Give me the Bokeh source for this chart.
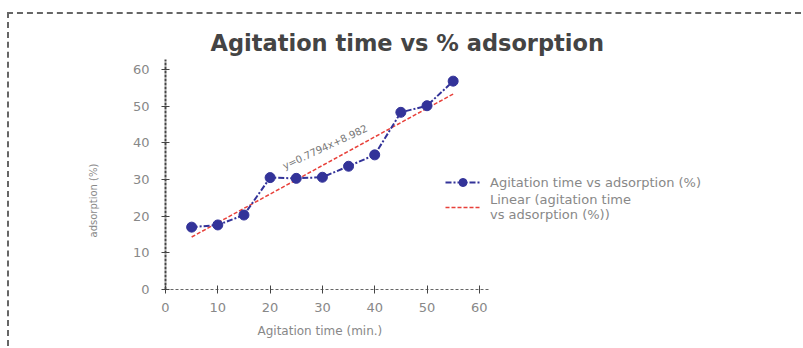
from bokeh.plotting import figure
from bokeh.models import Legend, LegendItem, Label, FixedTicker, Range1d, Title
from bokeh.embed import file_html
from bokeh.resources import INLINE
import math

# data
time_min = [5, 10, 15, 20, 25, 30, 35, 40, 45, 50, 55]
adsorption = [17.0, 17.6, 20.3, 30.5, 30.3, 30.6, 33.6, 36.7, 48.3, 50.1, 56.8]
slope = 0.7794
intercept = 10.42
trend_x = [5, 55]
trend_y = [slope * x + intercept for x in trend_x]
x_ticks = [0, 10, 20, 30, 40, 50, 60]
y_ticks = [0, 10, 20, 30, 40, 50, 60]

FONT = "DejaVu Sans"

p = figure(width=794, height=334, output_backend="svg", toolbar_location=None,
           x_range=Range1d(0, 119.5), y_range=Range1d(0, 62.7),
           min_border_left=156, min_border_right=13, min_border_top=45, min_border_bottom=59)
p.styles = {"margin-left": "7px", "margin-top": "12px",
            "border-left": "2px dashed #666", "border-top": "2px dashed #666"}
p.outline_line_color = None
p.xgrid.visible = False
p.ygrid.visible = False
p.background_fill_color = "white"
p.border_fill_color = "white"

p.title.text = "Agitation time vs % adsorption"
p.title.align = "left"
p.title.offset = 45
p.title.text_font = FONT
p.title.text_font_size = "22.5px"
p.title.text_font_style = "bold"
p.title.text_color = "#444444"
p.title.standoff = 8

for ax in (p.xaxis[0], p.yaxis[0]):
    ax.major_label_text_font = FONT
    ax.major_label_text_font_size = "13px"
    ax.major_label_text_color = "#888888"
    ax.major_tick_in = 4
    ax.major_tick_out = 4
    ax.minor_tick_line_color = None
    ax.major_tick_line_color = "#444444"

p.xaxis.ticker = FixedTicker(ticks=x_ticks)
p.yaxis.ticker = FixedTicker(ticks=y_ticks)
p.xaxis.bounds = (0, 62)
p.xaxis.axis_line_color = "#666666"
p.xaxis.axis_line_dash = "3 2"
p.xaxis.major_label_standoff = 9
p.yaxis.axis_line_color = "#444444"
p.yaxis.axis_line_width = 2
p.yaxis.axis_line_dash = "3 1"
p.yaxis.major_label_standoff = 12

xlab = Title(text="Agitation time (min.)", align="left", offset=92, standoff=14,
             text_font=FONT, text_font_size="12px", text_font_style="normal",
             text_color="#888888")
p.add_layout(xlab, "below")

ylab = Title(text="adsorption (%)", align="left", offset=52, standoff=62,
             text_font=FONT, text_font_size="10px", text_font_style="normal",
             text_color="#888888")
p.add_layout(ylab, "left")

trend = p.line(trend_x, trend_y, line_color="#e8403a", line_width=1.5, line_dash="4 2")
ln = p.line(time_min, adsorption, line_color="#333399", line_width=2, line_dash="6 2 2 2")
sc = p.scatter(time_min, adsorption, size=10, fill_color="#333399", line_color="#333399")

p.add_layout(Label(x=22.5, y=33.5, text="y=0.7794x+8.982", angle=math.radians(25),
                   text_align="left", text_baseline="middle",
                   text_font=FONT, text_font_size="10px", text_color="#777777"))

legend = Legend(items=[
    LegendItem(label="Agitation time vs adsorption (%)", renderers=[ln, sc]),
    LegendItem(label="Linear (agitation time\nvs adsorption (%))", renderers=[trend]),
], location=(280, 67))
legend.padding = 0
legend.margin = 0
legend.spacing = 0
legend.border_line_alpha = 0
legend.background_fill_alpha = 0
legend.glyph_width = 35
legend.label_standoff = 10
legend.label_text_font = FONT
legend.label_text_font_size = "13px"
legend.label_text_line_height = 1.05
legend.label_text_color = "#888888"
p.add_layout(legend, "center")

open("out.html", "w").write(file_html(p, INLINE))
